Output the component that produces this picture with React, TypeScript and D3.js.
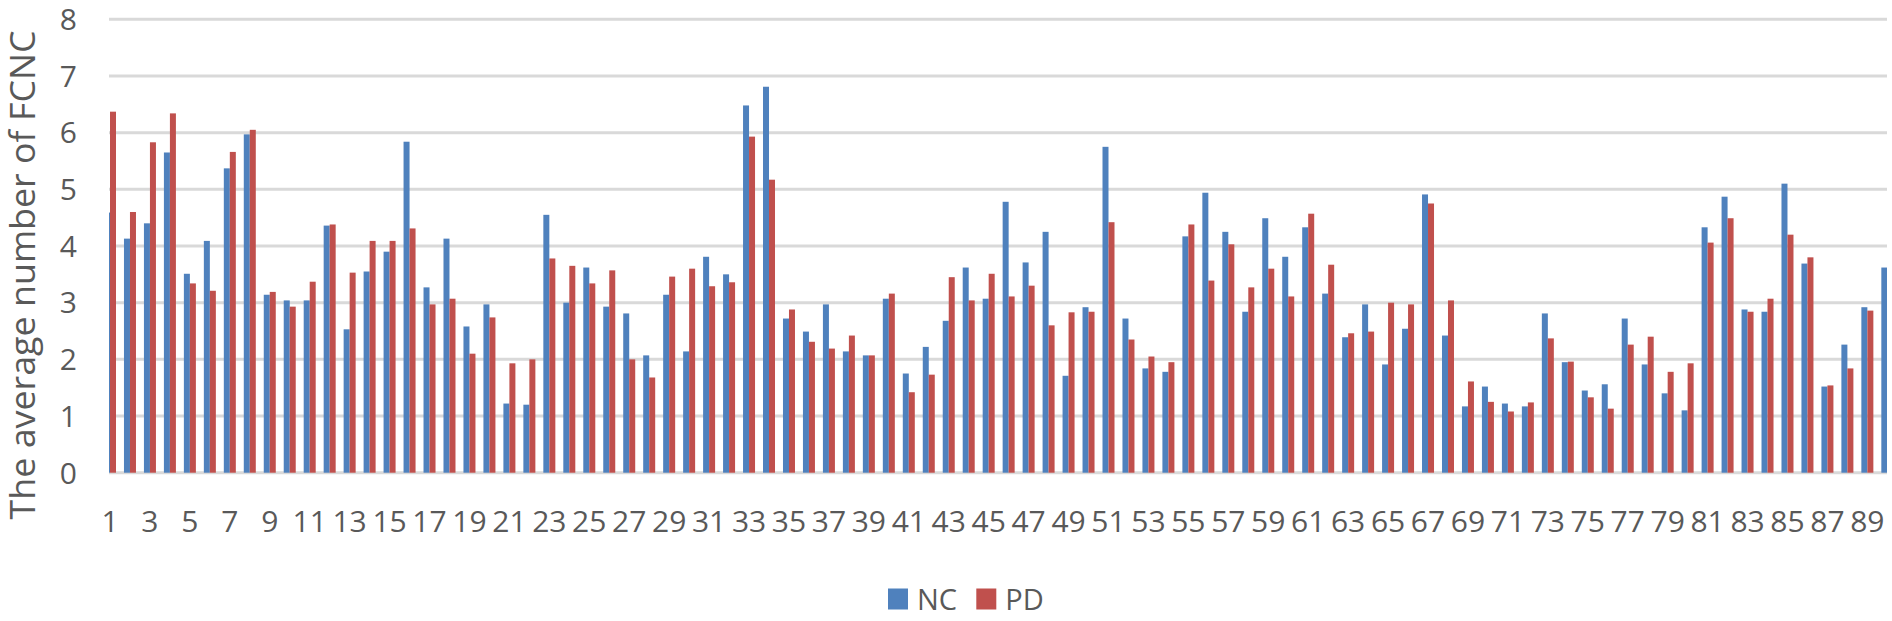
import * as d3 from "d3";
import { useEffect, useRef } from "react";

// values, categories 1..90
const categories = d3.range(1, 91).map(String);

const ncValues = [
  4.59, 4.13, 4.40, 5.65, 3.51, 4.09, 5.37, 5.97, 3.14, 3.04,
  3.04, 4.36, 2.53, 3.55, 3.90, 5.84, 3.27, 4.13, 2.58, 2.97,
  1.22, 1.20, 4.55, 3.00, 3.62, 2.93, 2.81, 2.07, 3.14, 2.14,
  3.81, 3.50, 6.48, 6.81, 2.72, 2.49, 2.97, 2.14, 2.07, 3.07,
  1.75, 2.22, 2.68, 3.62, 3.07, 4.78, 3.71, 4.25, 1.71, 2.92,
  5.75, 2.72, 1.84, 1.78, 4.17, 4.94, 4.25, 2.84, 4.49, 3.81,
  4.33, 3.16, 2.39, 2.97, 1.91, 2.54, 4.91, 2.42, 1.17, 1.52,
  1.22, 1.17, 2.81, 1.95, 1.45, 1.56, 2.72, 1.91, 1.40, 1.10,
  4.33, 4.87, 2.88, 2.84, 5.10, 3.69, 1.52, 2.26, 2.92, 3.62,
];

const pdValues = [
  6.37, 4.60, 5.83, 6.34, 3.34, 3.21, 5.66, 6.05, 3.19, 2.93,
  3.37, 4.38, 3.53, 4.09, 4.09, 4.31, 2.97, 3.07, 2.10, 2.74,
  1.93, 2.00, 3.78, 3.65, 3.34, 3.57, 2.00, 1.68, 3.46, 3.60,
  3.29, 3.36, 5.93, 5.17, 2.88, 2.31, 2.19, 2.42, 2.07, 3.16,
  1.42, 1.73, 3.45, 3.04, 3.51, 3.11, 3.30, 2.60, 2.83, 2.84,
  4.42, 2.35, 2.05, 1.95, 4.38, 3.39, 4.03, 3.27, 3.60, 3.11,
  4.57, 3.67, 2.46, 2.49, 3.00, 2.97, 4.75, 3.04, 1.61, 1.25,
  1.08, 1.24, 2.37, 1.96, 1.33, 1.13, 2.26, 2.40, 1.78, 1.93,
  4.06, 4.49, 2.84, 3.07, 4.20, 3.80, 1.54, 1.84, 2.86, 3.11,
];

const seriesNames = ["NC", "PD"];
const seriesColors = ["#4F81BD", "#C0504D"];
const yTicks = [0, 1, 2, 3, 4, 5, 6, 7, 8];

export default function App() {
  const ref = useRef<SVGSVGElement>(null);

  useEffect(() => {
    const svg = d3.select(ref.current);
    svg.selectAll("*").remove();

    const width = 1892;
    const height = 621;
    const plotLeft = 109;
    const plotRight = 1887;
    const step = 19.97;
    const firstCenter = 110;
    const font = "'Open Sans', 'Noto Sans', sans-serif";
    const textColor = "#595959";

    svg.attr("width", width).attr("height", height);

    const x0 = d3.scaleBand()
      .domain(categories)
      .range([firstCenter - step / 2, firstCenter - step / 2 + step * categories.length])
      .padding(0);

    const x1 = d3.scaleBand()
      .domain(seriesNames)
      .range([step / 2 - 6, step / 2 + 6]);

    const y = d3.scaleLinear()
      .domain([0, 8])
      .range([472.7, 19.3]);

    const color = d3.scaleOrdinal<string>().domain(seriesNames).range(seriesColors);

    svg.append("defs")
      .append("clipPath")
      .attr("id", "plotClip")
      .append("rect")
      .attr("x", plotLeft)
      .attr("y", 0)
      .attr("width", plotRight - plotLeft)
      .attr("height", height);

    // gridlines
    svg.append("g")
      .selectAll("line")
      .data(yTicks)
      .join("line")
      .attr("x1", plotLeft)
      .attr("x2", plotRight)
      .attr("y1", d => y(d))
      .attr("y2", d => y(d))
      .attr("stroke", "#D9D9D9")
      .attr("stroke-width", 3);

    // bars
    const rows = categories.map((c, i) => ({ cat: c, NC: ncValues[i], PD: pdValues[i] }));

    svg.append("g")
      .attr("clip-path", "url(#plotClip)")
      .selectAll("g")
      .data(rows)
      .join("g")
      .attr("transform", d => `translate(${x0(d.cat)},0)`)
      .selectAll("rect")
      .data(d => seriesNames.map(key => ({ key, value: (d as any)[key] as number })))
      .join("rect")
      .attr("x", d => x1(d.key)!)
      .attr("y", d => y(d.value))
      .attr("width", x1.bandwidth())
      .attr("height", d => y(0) - y(d.value))
      .attr("fill", d => color(d.key));

    // y tick labels
    svg.append("g")
      .selectAll("text")
      .data(yTicks)
      .join("text")
      .attr("x", 77)
      .attr("y", d => y(d))
      .attr("dy", "0.36em")
      .attr("text-anchor", "end")
      .attr("font-family", font)
      .attr("font-size", 30)
      .attr("fill", textColor)
      .text(d => d);

    // x tick labels, every other category
    svg.append("g")
      .selectAll("text")
      .data(categories.filter((_, i) => i % 2 === 0))
      .join("text")
      .attr("x", d => x0(d)! + step / 2)
      .attr("y", 532)
      .attr("text-anchor", "middle")
      .attr("font-family", font)
      .attr("font-size", 30)
      .attr("fill", textColor)
      .text(d => d);

    // y axis title
    svg.append("text")
      .attr("transform", "translate(35,275) rotate(-90)")
      .attr("text-anchor", "middle")
      .attr("font-family", font)
      .attr("font-size", 34)
      .attr("textLength", 489)
      .attr("lengthAdjust", "spacingAndGlyphs")
      .attr("fill", textColor)
      .text("The average number of FCNC");

    // legend
    const legend = svg.append("g").attr("transform", "translate(888,588.5)");
    const legendItems = legend.selectAll("g")
      .data(seriesNames)
      .join("g")
      .attr("transform", (_, i) => `translate(${i * 88.3},0)`);
    legendItems.append("rect")
      .attr("width", 20)
      .attr("height", 21)
      .attr("fill", d => color(d));
    legendItems.append("text")
      .attr("x", 29)
      .attr("y", 21)
      .attr("font-family", font)
      .attr("font-size", 29)
      .attr("fill", textColor)
      .text(d => d);
  }, []);

  return (
    <div style={{ position: "fixed", left: 0, top: 0, background: "white" }}>
      <svg ref={ref} style={{ display: "block" }}></svg>
    </div>
  );
}
